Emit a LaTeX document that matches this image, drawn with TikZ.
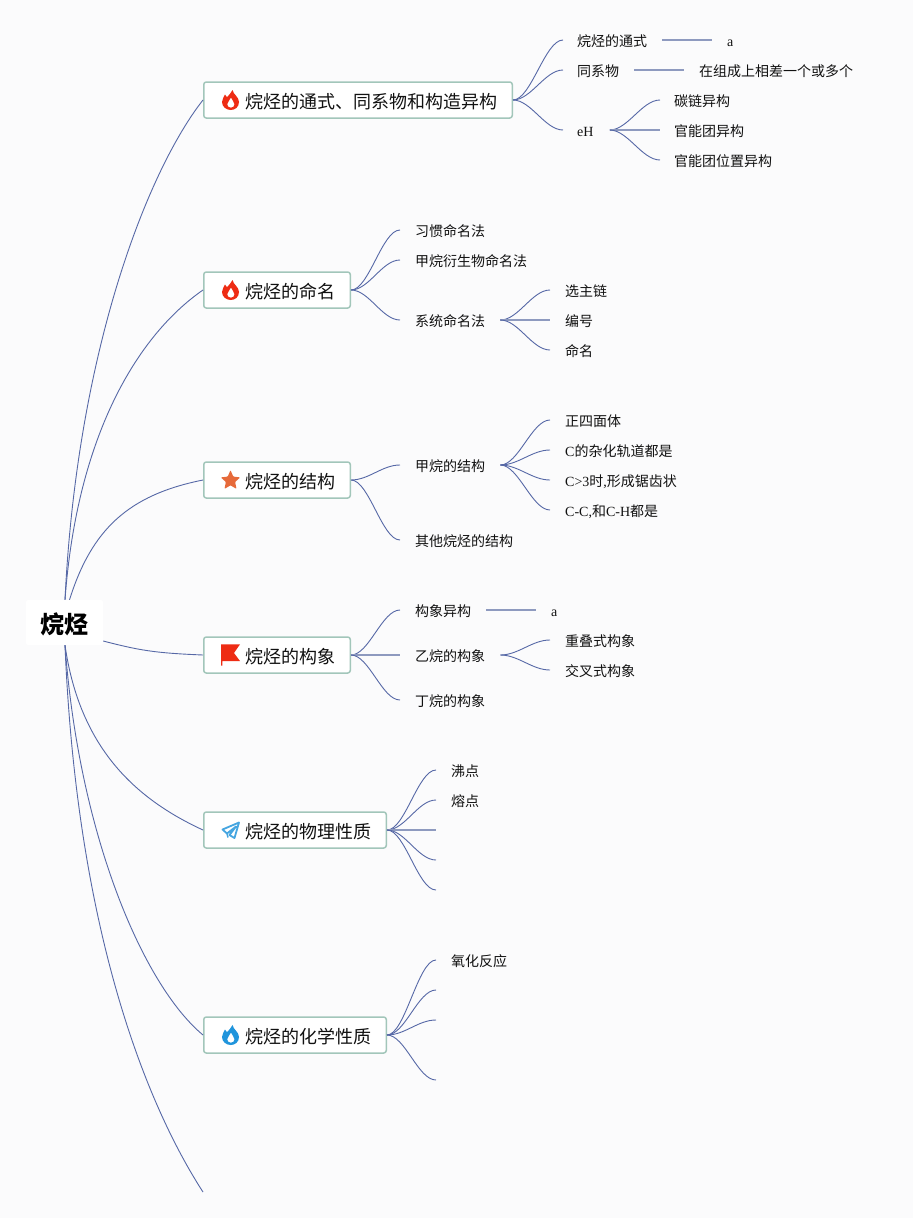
\documentclass[tikz,border=0pt]{standalone}
\usepackage{fontspec}
\setmainfont{Noto Sans CJK SC}
\newfontfamily\latf{Liberation Serif}
\newcommand{\lat}[1]{{\latf #1}}
\definecolor{bgc}{HTML}{FBFBFC}
\definecolor{linec}{HTML}{5668A6}
\definecolor{stubc}{HTML}{8E9ABF}
\definecolor{boxc}{HTML}{A2C6BA}
\definecolor{inkc}{HTML}{111111}
\definecolor{redi}{HTML}{EE2C14}
\definecolor{stari}{HTML}{E66A3A}
\definecolor{bluei}{HTML}{2095DC}
\definecolor{planei}{HTML}{45A5E0}
\tikzset{
 link/.style={draw=linec,line width=.9pt},
 straight/.style={draw=stubc,line width=1.3pt},
 rootbox/.style={fill=white,rounded corners=2pt,minimum width=77pt,minimum height=45pt,inner sep=0pt,font=\fontsize{24}{24}\selectfont\bfseries,text=black,text height=25pt,text depth=3pt},
 topic/.style={fill=white,draw=boxc,line width=1.5pt,rounded corners=2.5pt,minimum height=36pt,inner xsep=0pt,inner ysep=0pt,anchor=west,font=\fontsize{18}{18}\selectfont,text=inkc,text height=17.5pt,text depth=1.5pt},
 leaf/.style={anchor=west,inner sep=0pt,font=\fontsize{14}{14}\selectfont,text=inkc,text height=15pt,text depth=2pt},
}
\newcommand{\flameicon}[2]{%
 \begin{scope}[shift={(#1)}]
  \fill[#2,even odd rule] (2,-10) .. controls (2.8,-5.5) and (8.5,-3) .. (8.5,2)
    .. controls (8.5,7) and (4.5,10) .. (0.3,10)
    .. controls (-4.5,10) and (-8.5,6.5) .. (-8.5,2)
    .. controls (-8.5,-1) and (-6.5,-3) .. (-5.5,-5.5)
    .. controls (-5,-4.5) and (-4.3,-3.5) .. (-3.5,-2.8)
    .. controls (-2,-5) and (1,-7) .. (2,-10) -- cycle
    (0.5,-2.5) .. controls (1,0) and (4,1.5) .. (4,4.3)
    .. controls (4,6.5) and (2.3,7.7) .. (0.3,7.7)
    .. controls (-1.7,7.7) and (-3.3,6.3) .. (-3.3,4.3)
    .. controls (-3.3,1.5) and (-0.3,0.5) .. (0.5,-2.5) -- cycle;
 \end{scope}}
\begin{document}
\begin{tikzpicture}[x=1pt,y=-1pt]
\useasboundingbox (0,0) rectangle (913,1218);
\fill[bgc] (0,0) rectangle (913,1218);

% free ends
\coordinate (freeA) at (203,1192);
\coordinate (e1) at (436,830);
\coordinate (e2) at (436,860);
\coordinate (e3) at (436,890);
\coordinate (f1) at (436,990);
\coordinate (f2) at (436,1020);
\coordinate (f3) at (436,1080);

% root and topics
\node[rootbox] (root) at (64.5,622.5) {烷烃};
\node[topic] (t1) at (203,100) {\hspace*{42pt}烷烃的通式、同系物和构造异构\hspace*{14.5pt}};
\node[topic] (t2) at (203,290) {\hspace*{42pt}烷烃的命名\hspace*{14.5pt}};
\node[topic] (t3) at (203,480) {\hspace*{42pt}烷烃的结构\hspace*{14.5pt}};
\node[topic] (t4) at (203,655) {\hspace*{42pt}烷烃的构象\hspace*{14.5pt}};
\node[topic] (t5) at (203,830) {\hspace*{42pt}烷烃的物理性质\hspace*{14.5pt}};
\node[topic] (t6) at (203,1035) {\hspace*{42pt}烷烃的化学性质\hspace*{14.5pt}};

% leaves, topic 1
\node[leaf] (a1) at (563,40) {\hspace*{14pt}烷烃的通式\hspace*{15pt}};
\node[leaf] (a2) at (563,70) {\hspace*{14pt}同系物\hspace*{15pt}};
\node[leaf] (a3) at (563,130) {\hspace*{14pt}\lat{eH}\hspace*{16pt}};
\node[leaf] (a1v) at (712,40) {\hspace*{15pt}\lat{a}};
\node[leaf] (a2v) at (684,70) {\hspace*{15pt}在组成上相差一个或多个};
\node[leaf] (a31) at (660,100) {\hspace*{14pt}碳链异构};
\node[leaf] (a32) at (660,130) {\hspace*{14pt}官能团异构};
\node[leaf] (a33) at (660,160) {\hspace*{14pt}官能团位置异构};
% topic 2
\node[leaf] (b1) at (400,230) {\hspace*{15pt}习惯命名法};
\node[leaf] (b2) at (400,260) {\hspace*{15pt}甲烷衍生物命名法};
\node[leaf] (b3) at (400,320) {\hspace*{15pt}系统命名法\hspace*{15pt}};
\node[leaf] (b31) at (550,290) {\hspace*{15pt}选主链};
\node[leaf] (b32) at (550,320) {\hspace*{15pt}编号};
\node[leaf] (b33) at (550,350) {\hspace*{15pt}命名};
% topic 3
\node[leaf] (c1) at (400,465) {\hspace*{15pt}甲烷的结构\hspace*{15pt}};
\node[leaf] (c2) at (400,540) {\hspace*{15pt}其他烷烃的结构};
\node[leaf] (c11) at (550,420) {\hspace*{15pt}正四面体};
\node[leaf] (c12) at (550,450) {\hspace*{15pt}\lat{C}的杂化轨道都是};
\node[leaf] (c13) at (550,480) {\hspace*{15pt}\lat{C>3}时\lat{,}形成锯齿状};
\node[leaf] (c14) at (550,510) {\hspace*{15pt}\lat{C-C,}和\lat{C-H}都是};
% topic 4
\node[leaf] (d1) at (400,610) {\hspace*{15pt}构象异构\hspace*{15pt}};
\node[leaf] (d2) at (400,655) {\hspace*{15pt}乙烷的构象\hspace*{15pt}};
\node[leaf] (d3) at (400,700) {\hspace*{15pt}丁烷的构象};
\node[leaf] (d1v) at (536,610) {\hspace*{15pt}\lat{a}};
\node[leaf] (d21) at (550,640) {\hspace*{15pt}重叠式构象};
\node[leaf] (d22) at (550,670) {\hspace*{15pt}交叉式构象};
% topic 5, 6
\node[leaf] (g1) at (436,770) {\hspace*{15pt}沸点};
\node[leaf] (g2) at (436,800) {\hspace*{15pt}熔点};
\node[leaf] (h1) at (436,960) {\hspace*{15pt}氧化反应};

% root links
\draw[link] ([xshift=.5pt]root.north) .. controls +(12,-250) and +(-55,70) .. (t1.west);
\draw[link] ([xshift=.5pt]root.north) .. controls +(12,-165) and +(-65,45) .. (t2.west);
\draw[link] ([xshift=5pt]root.north) .. controls +(22,-70) and +(-75,15) .. (t3.west);
\draw[link] (root.east |- 0,641) .. controls +(35,9) and +(-50,-2) .. (t4.west);
\draw[link] ([xshift=.5pt]root.south) .. controls +(15,105) and +(-65,-30) .. (t5.west);
\draw[link] ([xshift=.5pt]root.south) .. controls +(14,190) and +(-60,-50) .. (t6.west);
\draw[link] ([xshift=.5pt]root.south) .. controls +(12,290) and +(-55,-85) .. (freeA);

% topic 1 links
\draw[link] (t1.east) .. controls +(18,0) and +(-18,0) .. (a1.west);
\draw[link] (t1.east) .. controls +(18,0) and +(-18,0) .. (a2.west);
\draw[link] (t1.east) .. controls +(18,0) and +(-18,0) .. (a3.west);
\draw[straight] (a1.east) -- (a1v.west);
\draw[straight] (a2.east) -- (a2v.west);
\draw[link] (a3.east) .. controls +(18,0) and +(-18,0) .. (a31.west);
\draw[straight] (a3.east) -- (a32.west);
\draw[link] (a3.east) .. controls +(18,0) and +(-18,0) .. (a33.west);
% topic 2 links
\draw[link] (t2.east) .. controls +(18,0) and +(-18,0) .. (b1.west);
\draw[link] (t2.east) .. controls +(18,0) and +(-18,0) .. (b2.west);
\draw[link] (t2.east) .. controls +(18,0) and +(-18,0) .. (b3.west);
\draw[link] (b3.east) .. controls +(18,0) and +(-18,0) .. (b31.west);
\draw[straight] (b3.east) -- (b32.west);
\draw[link] (b3.east) .. controls +(18,0) and +(-18,0) .. (b33.west);
% topic 3 links
\draw[link] (t3.east) .. controls +(18,0) and +(-18,0) .. (c1.west);
\draw[link] (t3.east) .. controls +(18,0) and +(-18,0) .. (c2.west);
\draw[link] (c1.east) .. controls +(18,0) and +(-18,0) .. (c11.west);
\draw[link] (c1.east) .. controls +(18,0) and +(-18,0) .. (c12.west);
\draw[link] (c1.east) .. controls +(18,0) and +(-18,0) .. (c13.west);
\draw[link] (c1.east) .. controls +(18,0) and +(-18,0) .. (c14.west);
% topic 4 links
\draw[link] (t4.east) .. controls +(18,0) and +(-18,0) .. (d1.west);
\draw[straight] (t4.east) -- (d2.west);
\draw[link] (t4.east) .. controls +(18,0) and +(-18,0) .. (d3.west);
\draw[straight] (d1.east) -- (d1v.west);
\draw[link] (d2.east) .. controls +(18,0) and +(-18,0) .. (d21.west);
\draw[link] (d2.east) .. controls +(18,0) and +(-18,0) .. (d22.west);
% topic 5 links
\draw[link] (t5.east) .. controls +(18,0) and +(-18,0) .. (g1.west);
\draw[link] (t5.east) .. controls +(18,0) and +(-18,0) .. (g2.west);
\draw[straight] (t5.east) -- (e1);
\draw[link] (t5.east) .. controls +(18,0) and +(-18,0) .. (e2);
\draw[link] (t5.east) .. controls +(18,0) and +(-18,0) .. (e3);
% topic 6 links
\draw[link] (t6.east) .. controls +(18,0) and +(-18,0) .. (h1.west);
\draw[link] (t6.east) .. controls +(18,0) and +(-18,0) .. (f1);
\draw[link] (t6.east) .. controls +(18,0) and +(-18,0) .. (f2);
\draw[link] (t6.east) .. controls +(18,0) and +(-18,0) .. (f3);

% icons
\flameicon{230.5,100}{redi}
\flameicon{230.5,290}{redi}
\flameicon{230.5,1035}{bluei}
\begin{scope}[shift={(230.5,480.5)}]
\fill[stari,rounded corners=.8pt] (0,-10.3) -- (2.8,-3.9) -- (9.7,-3.1) -- (4.6,1.5) -- (6,8.4) -- (0,4.8) -- (-6,8.4) -- (-4.6,1.5) -- (-9.7,-3.1) -- (-2.8,-3.9) -- cycle;
\end{scope}
\fill[redi] (221,644.3) -- (240,644.3) -- (234,653) -- (240,661) -- (222.3,661) -- (222.3,665.5) -- (221,665.5) -- cycle;
\draw[planei,line width=1.8pt,line join=round] (239,822.5) -- (222.5,829.5) -- (227,833.5) -- (236,826.5) -- (229.5,835) -- (234.5,838) -- cycle;
\draw[planei,line width=1.5pt,line join=round] (227,833.5) -- (228,837.5);
\end{tikzpicture}
\end{document}
